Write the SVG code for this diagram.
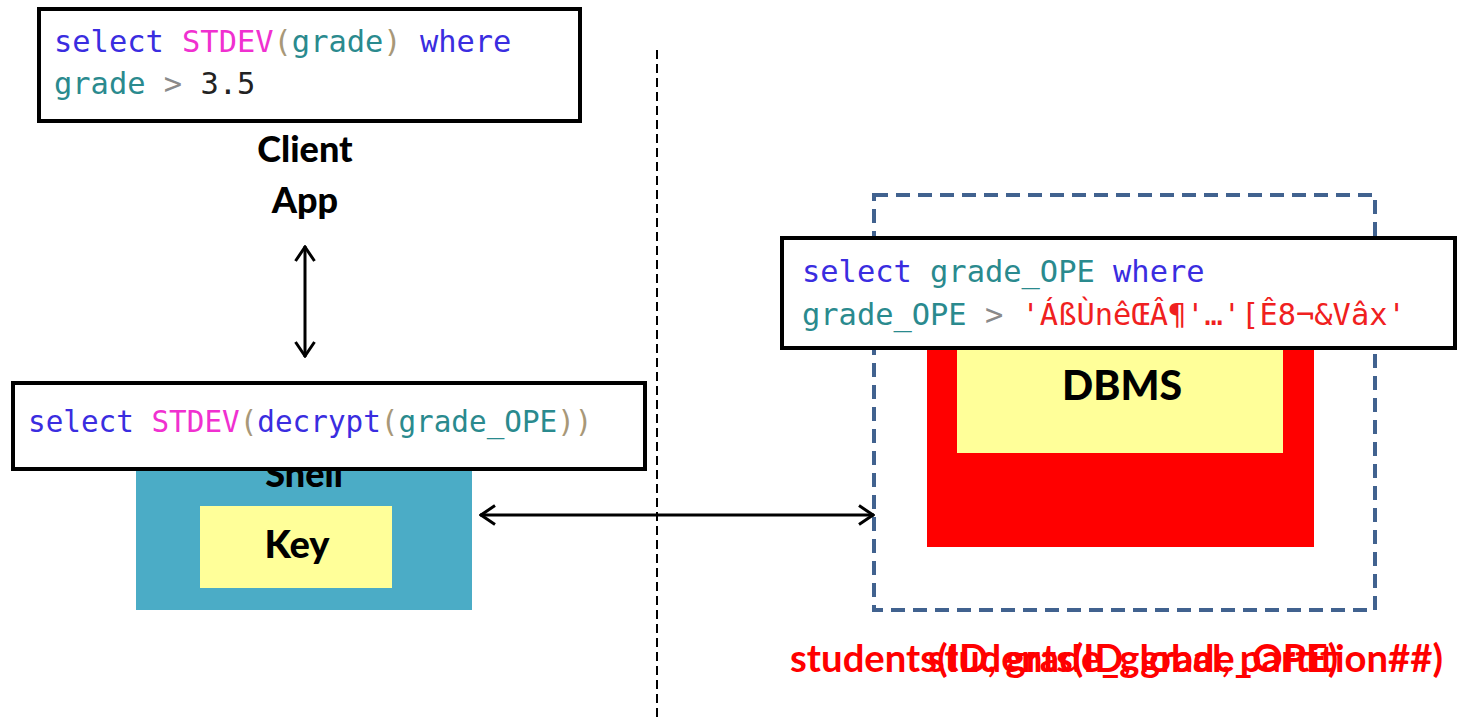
<svg xmlns="http://www.w3.org/2000/svg" width="1457" height="721" viewBox="0 0 1457 721">
<defs>
<marker id="arr" viewBox="0 0 18 22" refX="17" refY="11" markerWidth="18" markerHeight="22" markerUnits="userSpaceOnUse" orient="auto-start-reverse">
<path d="M2,1.5 L16,11 L2,20.5" fill="none" stroke="#000" stroke-width="3"/>
</marker>
<style>
.code{font-family:"DejaVu Sans Mono","Liberation Mono",monospace;font-size:30.4px;white-space:pre}
.code.sm{font-size:29.3px}
.kw{fill:#3a2de0}
.fn{fill:#f030d0}
.par{fill:#a89878}
.id{fill:#2a8a8e}
.op{fill:#8a8a8a}
.num{fill:#222}
.str{fill:#f02020}
.lbl{font-family:Lato,"Open Sans",sans-serif;font-weight:900;fill:#000;text-anchor:middle}
.box{fill:#fff;stroke:#000;stroke-width:4}
.conn{stroke:#000;stroke-width:3;fill:none}
.red{font-family:Lato,"Open Sans",sans-serif;font-weight:bold;font-size:38px;fill:#ff0000}
</style>
</defs>
<rect width="1457" height="721" fill="#fff"/>

<g id="divider">
<line x1="657" y1="50" x2="657" y2="721" stroke="#000" stroke-width="2" stroke-dasharray="9,5"/>
</g>

<g id="client-query">
<rect class="box" x="39" y="9" width="541" height="112"/>
<text class="code" x="54" y="52" xml:space="preserve"><tspan class="kw">select</tspan> <tspan class="fn">STDEV</tspan><tspan class="par">(</tspan><tspan class="id">grade</tspan><tspan class="par">)</tspan> <tspan class="kw">where</tspan></text>
<text class="code" x="54" y="94" xml:space="preserve"><tspan class="id">grade</tspan> <tspan class="op">&gt;</tspan> <tspan class="num">3.5</tspan></text>
</g>

<g id="client-app">
<text class="lbl" x="305" y="162" font-size="36">Client</text>
<text class="lbl" x="305" y="213" font-size="36">App</text>
</g>

<g id="shell">
<rect x="136" y="440" width="336" height="170" fill="#4bacc6"/>
<text class="lbl" x="304" y="487" font-size="36">Shell</text>
</g>

<g id="key">
<rect x="200" y="506" width="192" height="82" fill="#ffff99"/>
<text class="lbl" x="297" y="558" font-size="38">Key</text>
</g>

<g id="shell-query">
<rect class="box" x="13" y="383" width="632" height="86"/>
<text class="code sm" x="28" y="432" xml:space="preserve"><tspan class="kw">select</tspan> <tspan class="fn">STDEV</tspan><tspan class="par">(</tspan><tspan class="kw">decrypt</tspan><tspan class="par">(</tspan><tspan class="id">grade_OPE</tspan><tspan class="par">))</tspan></text>
</g>

<g id="server-boundary">
<rect x="874" y="195" width="501" height="415" fill="none" stroke="#41628f" stroke-width="4" stroke-dasharray="14,8"/>
</g>

<g id="dbms">
<rect x="927" y="320" width="387" height="227" fill="#ff0000"/>
<rect x="957" y="320" width="326" height="133" fill="#ffff99"/>
<text class="lbl" x="1122" y="400" font-size="41">DBMS</text>
</g>

<g id="server-query">
<rect class="box" x="782" y="238" width="673" height="110"/>
<text class="code" x="802" y="282" xml:space="preserve"><tspan class="kw">select</tspan> <tspan class="id">grade_OPE</tspan> <tspan class="kw">where</tspan></text>
<text class="code" x="802" y="325" xml:space="preserve"><tspan class="id">grade_OPE</tspan> <tspan class="op">&gt;</tspan> <tspan class="str">'ÁßÙnêŒÂ¶'…'[Ê8¬&amp;Vâx'</tspan></text>
</g>

<g id="table-labels">
<text class="red" x="790" y="672" textLength="653" lengthAdjust="spacingAndGlyphs">students(ID, grade_global, partition##)</text>
<text class="red" x="928" y="672" textLength="410" lengthAdjust="spacingAndGlyphs">students(ID, grade_OPE)</text>
</g>

<g id="connectors">
<line class="conn" x1="305" y1="246" x2="305" y2="357" marker-start="url(#arr)" marker-end="url(#arr)"/>
<line class="conn" x1="480" y1="515" x2="874" y2="515" marker-start="url(#arr)" marker-end="url(#arr)"/>
</g>
</svg>
